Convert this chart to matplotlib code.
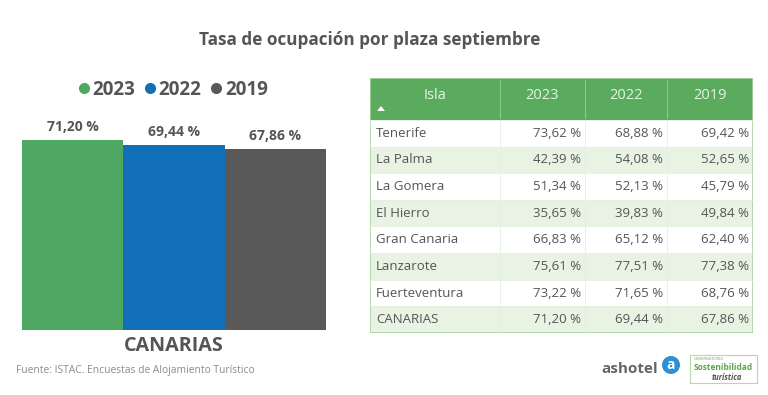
import matplotlib
matplotlib.use("Agg")
import matplotlib.pyplot as plt
from matplotlib.patches import Rectangle, Polygon, Circle
from matplotlib.lines import Line2D

# ---------------- data ----------------
years = ["2023", "2022", "2019"]
canarias_values = [71.20, 69.44, 67.86]
bar_category = "CANARIAS"

islands = ["Tenerife", "La Palma", "La Gomera", "El Hierro", "Gran Canaria",
           "Lanzarote", "Fuerteventura", "CANARIAS"]
occ_2023 = [73.62, 42.39, 51.34, 35.65, 66.83, 75.61, 73.22, 71.20]
occ_2022 = [68.88, 54.08, 52.13, 39.83, 65.12, 77.51, 71.65, 69.44]
occ_2019 = [69.42, 52.65, 45.79, 49.84, 62.40, 77.38, 68.76, 67.86]

title = "Tasa de ocupación por plaza septiembre"
source = "Fuente: ISTAC. Encuestas de Alojamiento Turístico"

# ---------------- style ----------------
W, H = 768, 395
FONT = ["Open Sans", "DejaVu Sans"]
TXT = "#555555"
bar_colors = ["#4ea862", "#1170b8", "#595959"]
head_green = "#5aab5e"
row_green = "#e9f3e3"
border_green = "#a9d3a0"

def fmt(v):
    return f"{v:.2f}".replace(".", ",") + " %"

fig = plt.figure(figsize=(W / 100, H / 100), dpi=100)
fig.patch.set_facecolor("white")

def fx(px):
    return px / W

def fy(py):
    return 1 - py / H

# title
fig.text(fx(370), fy(40), title, ha="center", va="center", fontsize=12.3,
         fontweight="bold", color=TXT, family=FONT)

# ---------------- bar chart ----------------
ymax = 80
bottom_px, left_px, right_px = 330, 22, 326
top_px = bottom_px - 190 * ymax / canarias_values[0]
ax = fig.add_axes([fx(left_px), fy(bottom_px), fx(right_px - left_px),
                   (bottom_px - top_px) / H])
xpos = list(range(len(years)))
ax.bar(xpos, canarias_values, width=1.0, color=bar_colors)
for x, v in zip(xpos, canarias_values):
    ax.annotate(fmt(v), (x, v), xytext=(0, 4), textcoords="offset points",
                ha="center", va="bottom", fontsize=10, fontweight="bold",
                color=TXT, family=FONT)
ax.set_xlim(-0.5, len(years) - 0.5)
ax.set_ylim(0, ymax)
ax.axis("off")

handles = [Line2D([], [], marker="o", linestyle="none", markersize=7,
                  color=c) for c in bar_colors]
leg = fig.legend(handles, years, loc="center", bbox_to_anchor=(fx(172), fy(90)),
                 ncol=3, frameon=False, handletextpad=0.05, columnspacing=0.4,
                 handlelength=0.8,
                 prop={"family": FONT, "weight": "bold", "size": 13.5})
for t in leg.get_texts():
    t.set_color(TXT)

fig.text(fx(174), fy(346), bar_category, ha="center", va="center", fontsize=14.2,
         fontweight="bold", color=TXT, family=FONT)
fig.text(fx(16), fy(370), source, ha="left", va="center", fontsize=7.4,
         color="#8a8a8a", family=FONT)

# ---------------- table ----------------
tx0, tx1, ty0, ty1 = 370, 753, 78, 333
tab = fig.add_axes([fx(tx0), fy(ty1), fx(tx1 - tx0), (ty1 - ty0) / H])
tab.set_xlim(tx0, tx1)
tab.set_ylim(ty1, ty0)
tab.axis("off")
col_edges = [370, 500, 585, 667, 753]
header_bottom = 120
row_h = (ty1 - header_bottom) / len(islands)

tab.add_patch(Rectangle((tx0, ty0), tx1 - tx0, header_bottom - ty0,
                        facecolor=head_green, edgecolor="none"))
for xe in col_edges[1:-1]:
    tab.plot([xe, xe], [ty0 + 2, header_bottom - 2], color="#8cc98c", lw=0.8)
headers = ["Isla"] + years
for i, h in enumerate(headers):
    cx = (col_edges[i] + col_edges[i + 1]) / 2
    tab.text(cx, 96, h, ha="center", va="center", fontsize=10.5,
             color="#e6f5e3", family=FONT)
tab.add_patch(Polygon([[377, 111], [385, 111], [381, 106]], closed=True,
                      facecolor="white", edgecolor="none"))

cols = [occ_2023, occ_2022, occ_2019]
for r, name in enumerate(islands):
    y0 = header_bottom + r * row_h
    fc = "white" if r % 2 == 0 else row_green
    tab.add_patch(Rectangle((tx0, y0), tx1 - tx0, row_h, facecolor=fc,
                            edgecolor="none"))
    yc = y0 + row_h / 2
    tab.text(col_edges[0] + 6, yc, name, ha="left", va="center", fontsize=9.5,
             color=TXT, family=FONT)
    for c, series in enumerate(cols):
        tab.text(col_edges[c + 2] - 4, yc, fmt(series[r]), ha="right",
                 va="center", fontsize=9.5, color=TXT, family=FONT)
    tab.plot([tx0, tx1], [y0, y0], color="#e4efe0", lw=0.6)
for xe in col_edges[1:-1]:
    tab.plot([xe, xe], [header_bottom, ty1], color="#e4efe0", lw=0.6)
tab.add_patch(Rectangle((tx0, ty0), tx1 - tx0, ty1 - ty0, facecolor="none",
                        edgecolor=border_green, lw=1.2))

# ---------------- logos (as text) ----------------
fig.text(fx(601), fy(369), "ashotel", ha="left", va="center", fontsize=11,
         fontweight="bold", color="#666666", family=FONT)
lg = fig.add_axes([0, 0, 1, 1], facecolor="none")
lg.set_xlim(0, W)
lg.set_ylim(H, 0)
lg.axis("off")
lg.add_patch(Circle((671, 365), 9, facecolor="#2d8fd5", edgecolor="none"))
lg.text(671, 365, "a", ha="center", va="center", fontsize=10, fontweight="bold",
        color="white", family=FONT)
lg.add_patch(Rectangle((690, 355), 67, 28, facecolor="white",
                       edgecolor="#b8d8a8", lw=0.8))
lg.text(694, 359, "OBSERVATORIO", ha="left", va="center", fontsize=3,
        color="#6aa84f", family=FONT)
lg.text(723, 368, "Sostenibilidad", ha="center", va="center", fontsize=6,
        fontweight="bold", color="#5aa844", family=FONT)
lg.text(727, 377, "turística", ha="center", va="center", fontsize=5.5,
        fontweight="bold", style="italic", color="#555555", family=FONT)

fig.savefig("out.png", dpi=100)
